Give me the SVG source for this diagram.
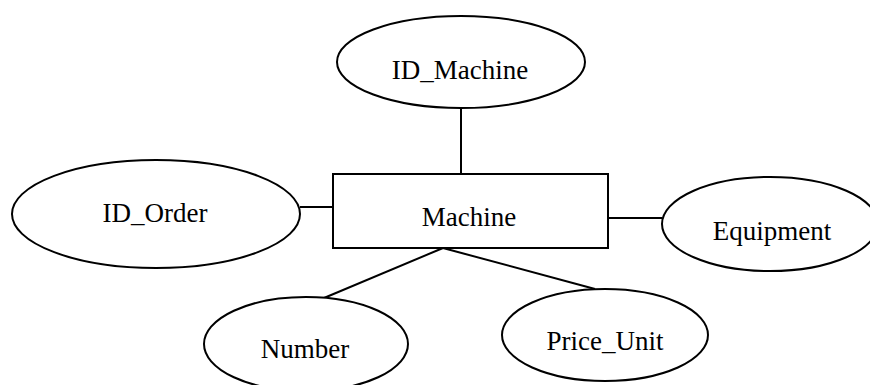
<svg xmlns="http://www.w3.org/2000/svg" width="870" height="385" viewBox="0 0 870 385">
  <style>
    .shape { fill: #ffffff; stroke: #000000; stroke-width: 2; }
    .link { stroke: #000000; stroke-width: 2; fill: none; }
    .label { font-family: "Liberation Serif", "Times New Roman", serif; font-size: 27px; fill: #000000; text-anchor: middle; }
  </style>
  <rect width="870" height="385" fill="#ffffff"/>

  <!-- connectors between the entity and its attributes -->
  <g id="connectors">
    <line class="link" x1="461" y1="108" x2="461" y2="174"/>
    <line class="link" x1="300" y1="207" x2="333" y2="207"/>
    <line class="link" x1="608" y1="218" x2="662" y2="218"/>
    <line class="link" x1="443" y1="248" x2="324" y2="298"/>
    <line class="link" x1="443" y1="248" x2="595" y2="289"/>
  </g>

  <g id="machine">
    <rect class="shape" x="333" y="174" width="275" height="74"/>
    <text class="label" x="469" y="226">Machine</text>
  </g>

  <g id="id-machine">
    <ellipse class="shape" cx="461" cy="62" rx="124" ry="46"/>
    <text class="label" x="460" y="79">ID_Machine</text>
  </g>

  <g id="id-order">
    <ellipse class="shape" cx="156" cy="214" rx="144" ry="54"/>
    <text class="label" x="155" y="222">ID_Order</text>
  </g>

  <g id="equipment">
    <ellipse class="shape" cx="770" cy="224" rx="108" ry="47"/>
    <text class="label" x="772" y="240">Equipment</text>
  </g>

  <g id="number">
    <ellipse class="shape" cx="306" cy="344" rx="102" ry="47"/>
    <text class="label" x="305" y="358">Number</text>
  </g>

  <g id="price-unit">
    <ellipse class="shape" cx="605" cy="335" rx="103" ry="46"/>
    <text class="label" x="605" y="350">Price_Unit</text>
  </g>
</svg>
